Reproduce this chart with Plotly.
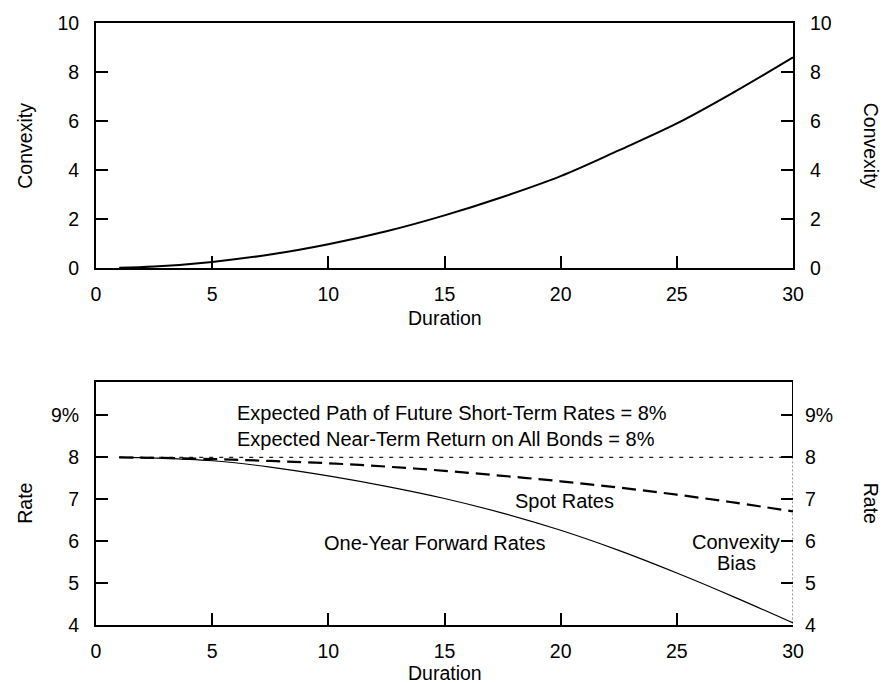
import plotly.graph_objects as go

# top panel: convexity vs duration
conv_duration = [1, 2.5, 5, 7.5, 10, 12.5, 15, 17.5, 20, 22.5, 25, 27.5, 30]
convexity = [0.01, 0.06, 0.25, 0.55, 0.97, 1.5, 2.15, 2.9, 3.75, 4.8, 5.9, 7.2, 8.6]

# bottom panel: rates vs duration
rate_duration = [1, 2.5, 5, 7.5, 10, 12.5, 15, 17.5, 20, 22.5, 25, 27.5, 30]
spot_rates = [8.0, 7.99, 7.96, 7.915, 7.86, 7.78, 7.68, 7.56, 7.43, 7.28, 7.11, 6.92, 6.71]
forward_rates = [8.0, 7.985, 7.92, 7.77, 7.56, 7.31, 7.02, 6.67, 6.26, 5.78, 5.24, 4.66, 4.05]
expected_x = [1, 30]
expected_rate = [8.0, 8.0]
bias_x = [30, 30]
bias_rate = [8.0, 4.0]

x_ticks = [0, 5, 10, 15, 20, 25, 30]
conv_ticks = [0, 2, 4, 6, 8, 10]
rate_ticks = [4, 5, 6, 7, 8, 9]
rate_ticktext = ['4', '5', '6', '7', '8', '9%']

FONT = 'Liberation Sans, Arial, sans-serif'
FS = 19.5

fig = go.Figure()

fig.add_trace(go.Scatter(x=conv_duration, y=convexity, mode='lines',
                         line=dict(color='black', width=2, shape='spline'),
                         xaxis='x', yaxis='y'))
# same curve on the right-hand axis so that axis gets drawn
fig.add_trace(go.Scatter(x=conv_duration, y=convexity, mode='lines', opacity=0,
                         hoverinfo='skip', line=dict(width=0), xaxis='x', yaxis='y3'))

fig.add_trace(go.Scatter(x=expected_x, y=expected_rate, mode='lines',
                         line=dict(color='#222', width=1.1, dash='4px,6px'),
                         xaxis='x2', yaxis='y2'))
fig.add_trace(go.Scatter(x=bias_x, y=bias_rate, mode='lines',
                         line=dict(color='#333', width=1, dash='2px,2px'),
                         xaxis='x2', yaxis='y2'))
fig.add_trace(go.Scatter(x=rate_duration, y=forward_rates, mode='lines',
                         line=dict(color='black', width=1.2, shape='spline'),
                         xaxis='x2', yaxis='y2'))
fig.add_trace(go.Scatter(x=rate_duration, y=spot_rates, mode='lines',
                         line=dict(color='black', width=2.2, dash='14px,7px', shape='spline'),
                         xaxis='x2', yaxis='y2'))
fig.add_trace(go.Scatter(x=rate_duration, y=spot_rates, mode='lines', opacity=0,
                         hoverinfo='skip', line=dict(width=0), xaxis='x2', yaxis='y4'))

axis_common = dict(showline=True, linecolor='black', linewidth=2, ticks='inside',
                   ticklen=12, tickwidth=1.6, tickcolor='black', showgrid=False,
                   zeroline=False, tickfont=dict(family=FONT, size=FS, color='black'))

fig.update_layout(
    width=884, height=683,
    margin=dict(l=96, r=91, t=23, b=58),
    paper_bgcolor='white', plot_bgcolor='white',
    showlegend=False,
    font=dict(family=FONT, size=FS, color='black'),
    xaxis=dict(domain=[0, 1], anchor='y', range=[0, 30], tickvals=x_ticks,
               mirror=True, ticklabelstandoff=8, **axis_common),
    yaxis=dict(domain=[0.593, 1], anchor='x', range=[0, 10], tickvals=conv_ticks,
               ticklabelstandoff=11, **axis_common),
    yaxis3=dict(overlaying='y', side='right', anchor='x', range=[0, 10],
                tickvals=conv_ticks, ticklabelstandoff=11, **axis_common),
    xaxis2=dict(domain=[0, 1], anchor='y2', range=[0, 30], tickvals=x_ticks,
                mirror=True, ticklabelstandoff=8, **axis_common),
    yaxis2=dict(domain=[0, 0.4037], anchor='x2', range=[4, 9.8], tickvals=rate_ticks,
                ticktext=rate_ticktext, ticklabelstandoff=11, **axis_common),
    yaxis4=dict(overlaying='y2', side='right', anchor='x2', range=[4, 9.8],
                tickvals=rate_ticks, ticktext=rate_ticktext, ticklabelstandoff=11,
                **{**axis_common, 'showline': False}),
)

# right border of lower panel is solid only above the 8% line
fig.add_shape(type='line', xref='x2', yref='y2', x0=30, x1=30, y0=8, y1=9.8,
              line=dict(color='black', width=2))

ann = []
# axis titles
for txt, x, y, ang in [('Convexity', -0.103, 0.7965, -90), ('Convexity', 1.113, 0.7965, 90),
                       ('Rate', -0.103, 0.2018, -90), ('Rate', 1.113, 0.2018, 90)]:
    ann.append(dict(text=txt, x=x, y=y, xref='paper', yref='paper', showarrow=False,
                    textangle=ang, xanchor='center', yanchor='middle'))
for y in [0.51, -0.08]:
    ann.append(dict(text='Duration', x=0.5, y=y, xref='paper', yref='paper',
                    showarrow=False, xanchor='center', yanchor='middle'))

# in-plot labels
for txt, x, y, xa in [('Expected Path of Future Short-Term Rates = 8%', 6.0, 9.07, 'left'),
                      ('Expected Near-Term Return on All Bonds = 8%', 6.0, 8.45, 'left'),
                      ('Spot Rates', 20.15, 6.95, 'center'),
                      ('One-Year Forward Rates', 14.6, 5.95, 'center'),
                      ('Convexity', 27.55, 5.98, 'center'),
                      ('Bias', 27.55, 5.48, 'center')]:
    ann.append(dict(text=txt, x=x, y=y, xref='x2', yref='y2', showarrow=False,
                    xanchor=xa, yanchor='middle', font=dict(size=20)))

fig.update_layout(annotations=ann)

# page has a default 8px body margin; drop it so the figure sits at the window corner
fig.write_html("out.html", config={'displayModeBar': False},
               post_script="document.body.style.margin='0';")
